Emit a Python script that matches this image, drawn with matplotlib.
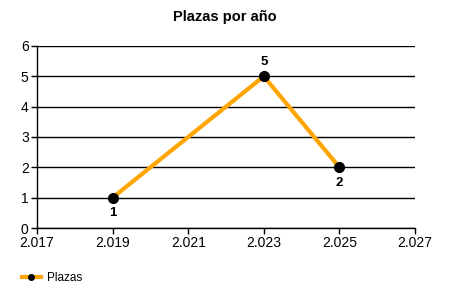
import matplotlib
matplotlib.use('Agg')
import matplotlib.pyplot as plt
from matplotlib.ticker import FuncFormatter

years = [2019, 2023, 2025]
plazas = [1, 5, 2]
label_pos = ['below', 'above', 'below']

plt.rcParams['font.family'] = ['Liberation Sans', 'DejaVu Sans']

fig = plt.figure(figsize=(4.5, 3), dpi=100)
ax = fig.add_axes([0.0822, 0.24, 0.84, 0.6067])

ax.set_xlim(2017, 2027)
ax.set_ylim(0, 6)
ax.set_xticks(range(2017, 2028, 2))
ax.set_yticks(range(0, 7))
ax.xaxis.set_major_formatter(FuncFormatter(lambda v, p: f'{int(v) // 1000}.{int(v) % 1000:03d}'))

ax.grid(True, axis='y', color='black', linewidth=1)
ax.set_axisbelow(True)
for s in ['top', 'right']:
    ax.spines[s].set_visible(False)
ax.spines['left'].set_linewidth(1)
ax.spines['bottom'].set_linewidth(1)
ax.tick_params(length=4, width=1, labelsize=10, pad=2)

ax.plot(years, plazas, color='#FFA500', linewidth=3, marker='o',
        markersize=7, markerfacecolor='black', markeredgecolor='black',
        label='Plazas', zorder=3)

for x, y, pos in zip(years, plazas, label_pos):
    if pos == 'above':
        ax.annotate(str(y), (x, y), xytext=(0, 6), textcoords='offset points',
                    ha='center', va='bottom', fontsize=9.5, fontweight='bold')
    else:
        ax.annotate(str(y), (x, y), xytext=(0, -7), textcoords='offset points',
                    ha='center', va='top', fontsize=9.5, fontweight='bold')

fig.suptitle('Plazas por año', x=0.5, y=0.965, fontsize=10.5, fontweight='bold')

leg_line = plt.Line2D([], [], color='#FFA500', linewidth=3, marker='o',
                      markersize=4, markerfacecolor='black', markeredgecolor='black')
fig.legend([leg_line], ['Plazas'], loc='center left', bbox_to_anchor=(0.025, 0.072),
           frameon=False, fontsize=8.5, handlelength=1.6, handletextpad=0.5)

fig.savefig('out.png', dpi=100)
